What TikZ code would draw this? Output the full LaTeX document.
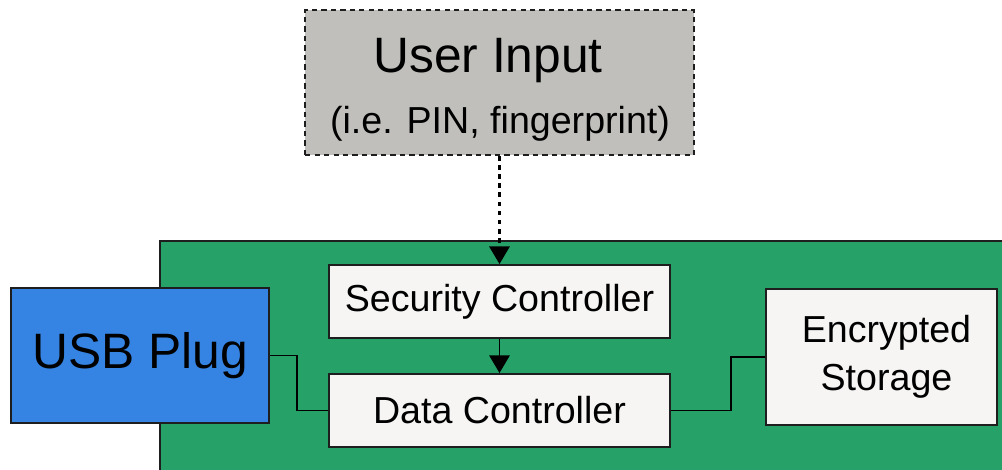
\documentclass[tikz,border=0pt]{standalone}
\usepackage{fontspec}
\setmainfont{Liberation Sans}
\usetikzlibrary{arrows.meta}
\definecolor{boardgreen}{HTML}{26A269}
\definecolor{plugblue}{HTML}{3584E4}
\definecolor{inputgray}{HTML}{C0BFBC}
\definecolor{chipfill}{HTML}{F6F5F4}
\definecolor{edgegray}{HTML}{1E1E1E}
\tikzset{
  block/.style={draw=edgegray, line width=1.1pt, fill=chipfill, inner sep=0pt,
                align=center, font=\fontsize{21.4}{27.5}\selectfont},
  bigtext/.style={font=\fontsize{28.3}{34}\selectfont},
  wire/.style={draw=black, line width=1.1pt},
  flow/.style={wire, -{Triangle[length=10pt,width=11.5pt]}},
}
\begin{document}
\begin{tikzpicture}[x=0.02cm, y=-0.02cm]
  \useasboundingbox (0,0) rectangle (1002,470);
  \clip (0,0) rectangle (1002,470);

  % circuit board
  \draw[fill=boardgreen, draw=edgegray, line width=1.1pt] (160,241) rectangle (1020,490);

  % user input source
  \node[draw=edgegray, fill=inputgray, line width=1.1pt,
        dash pattern=on 3pt off 2.4pt, minimum width=7.78cm, minimum height=2.9cm,
        inner sep=0pt] (user) at (499.5,82.5) {};
  \node[bigtext, anchor=base, inner sep=0pt] (usertitle) at (488,72) {User Input};
  \node[font=\fontsize{21.4}{27}\selectfont, anchor=base, inner sep=0pt] (userhint) at (500,133)
        {(i.e. PIN, fingerprint)};

  % components
  \node[block, fill=plugblue, bigtext, minimum width=5.16cm, minimum height=2.7cm] (usb)
        at (140,355.5) {USB Plug};
  \node[block, minimum width=6.82cm, minimum height=1.46cm] (sec) at (499.5,301.5)
        {Security Controller};
  \node[block, minimum width=6.82cm, minimum height=1.46cm] (data) at (499.5,410.5)
        {Data Controller};
  \node[block, minimum width=4.62cm, minimum height=2.72cm] (enc) at (881.5,357) {};
  \node[align=center, inner sep=0pt, font=\fontsize{21.4}{27.5}\selectfont] (enclabel)
        at ([xshift=0.1cm]enc.center) {Encrypted\\Storage};

  % connections
  \draw[flow, line width=1.4pt, dash pattern=on 2.6pt off 2.6pt] (user.south) -- (sec.north);
  \draw[flow] (sec.south) -- (data.north);
  \draw[wire] (usb.east) -- ++(27,0) |- (data.west);
  \draw[wire] (data.east) -- ++(60,0) |- (enc.west);
\end{tikzpicture}
\end{document}
